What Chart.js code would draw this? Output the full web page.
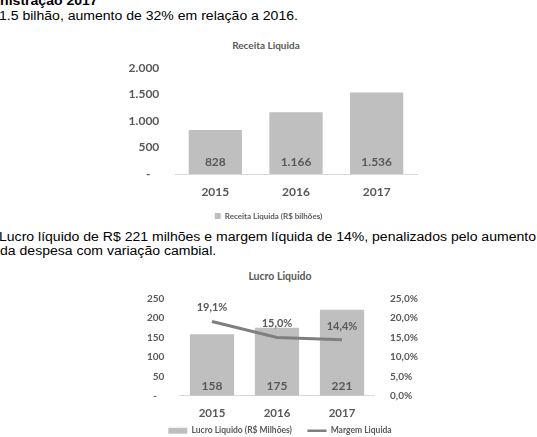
<!DOCTYPE html>
<html>
<head>
<meta charset="utf-8">
<script src="https://cdn.jsdelivr.net/npm/chart.js@4.4.1/dist/chart.umd.min.js"></script>
<style>
  html, body { margin: 0; padding: 0; width: 537px; height: 437px; overflow: hidden; background: #fff; }
  .txt { position: absolute; font-family: "Liberation Sans", Arial, sans-serif; font-size: 12px; line-height: 14px; color: #000; white-space: nowrap; transform: scaleX(1.17); transform-origin: 0 0; }
  .ttl { position: absolute; font-family: Lato, sans-serif; font-weight: bold; color: #595959; line-height: 1; white-space: nowrap; transform: translateX(-50%); }
  .box { position: absolute; line-height: 0; }
</style>
</head>
<body>

<div class="txt" style="left:-35px; top:-6px; font-weight:bold;">Administração 2017</div>
<div class="txt" style="left:-1px; top:9px;">1.5 bilhão, aumento de 32% em relação a 2016.</div>

<div class="ttl" style="left:266px; top:40px; font-size:10px;">Receita Liquida</div>
<div class="box" style="left:120px; top:36px;"><canvas id="receitaChart" width="311" height="194"></canvas></div>

<div class="txt" style="left:-1px; top:230px;">Lucro líquido de R$ 221 milhões e margem líquida de 14%, penalizados pelo aumento</div>
<div class="txt" style="left:0; top:244px;">da despesa com variação cambial.</div>

<div class="ttl" style="left:280px; top:271px; font-size:10.5px;">Lucro Liquido</div>
<div class="box" style="left:120px; top:277px;"><canvas id="lucroChart" width="320" height="168"></canvas></div>

<script>
const anos = ['2015', '2016', '2017'];
const receita = [828, 1166, 1536];        // R$ bilhões (as labelled)
const lucro = [158, 175, 221];            // R$ milhões
const margem = [19.1, 15.0, 14.4];        // %

const receitaMax = 2000, receitaStep = 500;
const lucroMax = 250, lucroStep = 50;
const margemMax = 25, margemStep = 5;

const grey = '#595959';
const barGrey = '#bfbfbf';
const lineGrey = '#7f7f7f';

function milhar(v) {
  return String(v).replace(/\B(?=(\d{3})+(?!\d))/g, '.');
}
function pct(v) {
  return v.toFixed(1).replace('.', ',') + '%';
}

// rótulos de dados (sem plugin externo)
const valueLabels = {
  id: 'valueLabels',
  afterDatasetsDraw(chart, args, opts) {
    const ctx = chart.ctx;
    ctx.save();
    ctx.fillStyle = grey;
    ctx.textAlign = 'center';
    ctx.textBaseline = 'middle';
    chart.data.datasets.forEach((ds, i) => {
      const meta = chart.getDatasetMeta(i);
      const isLine = meta.type === 'line';
      const y0 = chart.scales[meta.yAxisID].getPixelForValue(0);
      ctx.font = 'bold ' + (isLine ? opts.lineSize : opts.barSize) + 'px Lato';
      meta.data.forEach((el, j) => {
        const v = ds.data[j];
        if (isLine) {
          ctx.fillText(pct(v), el.x, el.y - opts.lineGap);
        } else {
          ctx.fillText(milhar(v), el.x, y0 - opts.barGap);
        }
      });
    });
    ctx.restore();
  }
};

new Chart(document.getElementById('receitaChart'), {
  type: 'bar',
  data: {
    labels: anos,
    datasets: [{
      label: 'Receita Liquida (R$ bilhões)',
      data: receita,
      backgroundColor: barGrey,
      categoryPercentage: 1,
      barPercentage: 0.66
    }]
  },
  options: {
    responsive: false,
    animation: false,
    layout: { padding: { top: 32, right: 14, bottom: 0, left: 0 } },
    plugins: {
      legend: {
        position: 'bottom',
        labels: {
          font: { family: 'Lato', size: 8, weight: 'bold' },
          color: grey, boxWidth: 6, boxHeight: 6, padding: 12.8
        }
      },
      tooltip: { enabled: false },
      valueLabels: { barSize: 12, barGap: 12, lineSize: 11, lineGap: 13 }
    },
    scales: {
      x: {
        grid: { display: false, drawTicks: false },
        border: { display: true, color: '#d9d9d9', width: 1 },
        ticks: { font: { family: 'Lato', size: 12, weight: 'bold' }, color: grey, padding: 10.8 },
        afterFit(s) { s.height = 25.2; }
      },
      y: {
        min: 0, max: receitaMax,
        grid: { display: false, drawTicks: false },
        border: { display: false },
        ticks: {
          stepSize: receitaStep, padding: 15.7,
          font: { family: 'Lato', size: 12, weight: 'bold' }, color: grey,
          callback: v => v === 0 ? '-   ' : milhar(v)
        },
        afterFit(s) { s.width = 55; }
      }
    }
  },
  plugins: [valueLabels]
});

new Chart(document.getElementById('lucroChart'), {
  type: 'bar',
  data: {
    labels: anos,
    datasets: [{
      type: 'bar',
      label: 'Lucro Liquido (R$ Milhões)',
      data: lucro,
      backgroundColor: barGrey,
      yAxisID: 'y',
      order: 2,
      categoryPercentage: 1,
      barPercentage: 0.68
    }, {
      type: 'line',
      label: 'Margem Liquida',
      data: margem,
      borderColor: lineGrey,
      borderWidth: 3,
      pointRadius: 0,
      tension: 0,
      yAxisID: 'y1',
      order: 1
    }]
  },
  options: {
    responsive: false,
    animation: false,
    layout: { padding: { top: 12, right: 0, bottom: 0, left: 0 } },
    plugins: {
      legend: {
        position: 'bottom',
        labels: {
          font: { family: 'Lato', size: 8.5, weight: 'bold' },
          color: grey, usePointStyle: true, pointStyleWidth: 19, boxHeight: 6, padding: 2.75,
          // espaço extra entre os dois itens, como no original
          generateLabels: () => [
            { text: 'Lucro Liquido (R$ Milhões)\u2003\u2003', fillStyle: barGrey, strokeStyle: barGrey, lineWidth: 0, pointStyle: 'rect', fontColor: grey, hidden: false, datasetIndex: 0 },
            { text: 'Margem Liquida', fillStyle: lineGrey, strokeStyle: lineGrey, lineWidth: 2.5, pointStyle: 'line', fontColor: grey, hidden: false, datasetIndex: 1 }
          ]
        }
      },
      tooltip: { enabled: false },
      valueLabels: { barSize: 12, barGap: 10, lineSize: 11, lineGap: 13.5 }
    },
    scales: {
      x: {
        grid: { display: false, drawTicks: false },
        border: { display: true, color: '#d9d9d9', width: 1 },
        ticks: { font: { family: 'Lato', size: 11.5, weight: 'bold' }, color: grey, padding: 11.1 },
        afterFit(s) { s.height = 28; }
      },
      y: {
        position: 'left',
        min: 0, max: lucroMax,
        grid: { display: false, drawTicks: false },
        border: { display: false },
        ticks: {
          stepSize: lucroStep, padding: 15.2,
          font: { family: 'Lato', size: 10, weight: 'bold' }, color: grey,
          callback: v => v === 0 ? '-   ' : String(v)
        },
        afterFit(s) { s.width = 59.5; }
      },
      y1: {
        position: 'right',
        min: 0, max: margemMax,
        grid: { display: false, drawTicks: false },
        border: { display: false },
        ticks: {
          stepSize: margemStep, padding: 15.5,
          font: { family: 'Lato', size: 10, weight: 'bold' }, color: grey,
          callback: v => pct(v)
        },
        afterFit(s) { s.width = 65.5; }
      }
    }
  },
  plugins: [valueLabels]
});
</script>
</body>
</html>
